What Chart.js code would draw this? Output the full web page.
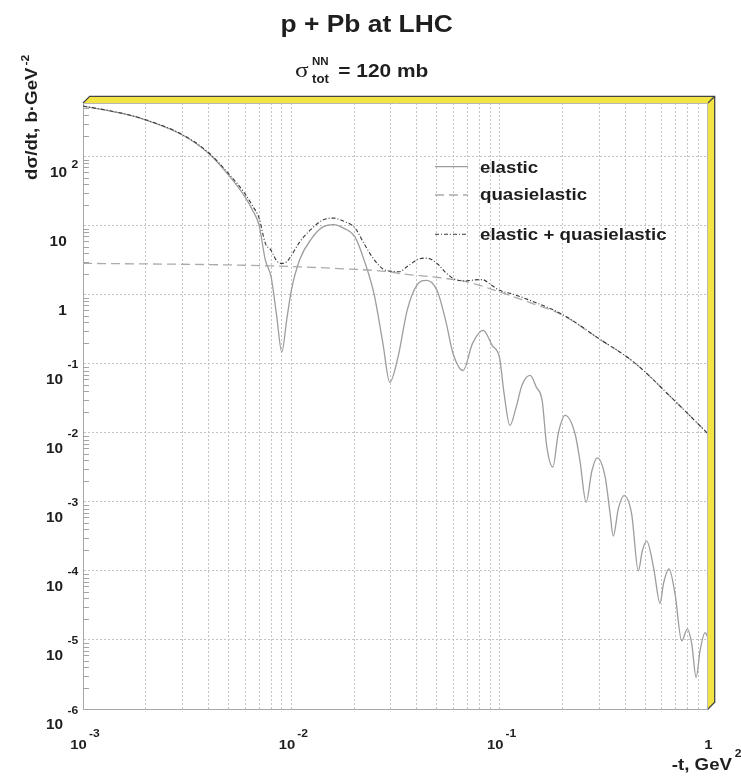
<!DOCTYPE html>
<html>
<head>
<meta charset="utf-8">
<script src="https://cdn.jsdelivr.net/npm/chart.js@4.4.1/dist/chart.umd.min.js"></script>
<style>
  html, body { margin: 0; padding: 0; background: #ffffff; }
  canvas { display: block; }
</style>
</head>
<body>
<canvas id="chart" width="741" height="783"></canvas>
<script>
// p + Pb elastic / quasielastic differential cross sections, d(sigma)/dt in b/GeV^2 vs -t in GeV^2
const tElastic = [0.001, 0.0015, 0.002, 0.003, 0.004, 0.005, 0.006, 0.0065, 0.007, 0.0075,
  0.008, 0.0085, 0.009, 0.0095, 0.010, 0.011, 0.0125, 0.014, 0.0159, 0.018,
  0.0202, 0.0225, 0.025, 0.0275, 0.0297, 0.0325, 0.036, 0.040, 0.0446, 0.050,
  0.055, 0.0598, 0.0668, 0.074, 0.0834, 0.092, 0.100, 0.105, 0.112, 0.120,
  0.128, 0.140, 0.150, 0.160, 0.168, 0.180, 0.191, 0.206, 0.230, 0.243,
  0.260, 0.277, 0.294, 0.321, 0.339, 0.351, 0.371, 0.395, 0.430, 0.463,
  0.484, 0.508, 0.548, 0.589, 0.611, 0.650, 0.695, 0.748, 0.796, 0.836,
  0.877, 0.916, 0.968, 1.0];
const elastic = [540, 430, 340, 206, 112, 54, 26, 17, 10.2, 3.2,
  1.8, 0.5, 0.148, 0.43, 1.16, 3.3, 6.5, 9.4, 10.4, 9.1,
  6.9, 3.0, 1.0, 0.2, 0.054, 0.125, 0.6, 1.37, 1.62, 1.16,
  0.43, 0.14, 0.08, 0.196, 0.305, 0.185, 0.12, 0.037, 0.0128, 0.0236,
  0.049, 0.068, 0.046, 0.029, 0.0066, 0.0032, 0.0097, 0.0179, 0.0097, 0.0039,
  0.00099, 0.0028, 0.00435, 0.00228, 0.00067, 0.00032, 0.00079, 0.00123, 0.00067, 0.0001,
  0.000196, 0.00027, 0.000112, 0.000034, 0.000065, 0.000107, 0.000046, 0.0000097, 0.0000144, 0.0000087,
  0.00000285, 0.000007, 0.0000128, 0.0000108];

const tQuasi = [0.001, 0.002, 0.004, 0.008, 0.0168, 0.030, 0.0332, 0.0507, 0.0706,
  0.0897, 0.100, 0.140, 0.200, 0.300, 0.440, 0.710, 1.0];
const quasielastic = [2.85, 2.8, 2.74, 2.62, 2.4, 2.14, 2.03, 1.78, 1.53,
  1.23, 1.10, 0.77, 0.51, 0.23, 0.106, 0.027, 0.0097];

const tSum = [0.001, 0.0015, 0.002, 0.003, 0.004, 0.005, 0.006, 0.0065, 0.007, 0.0075,
  0.008, 0.0085, 0.009, 0.0095, 0.010, 0.011, 0.0125, 0.014, 0.0159, 0.018,
  0.0202, 0.0225, 0.025, 0.0275, 0.0302, 0.033, 0.036, 0.041, 0.0446, 0.0507,
  0.055, 0.060, 0.068, 0.074, 0.080, 0.0834, 0.090, 0.100, 0.116, 0.140,
  0.200, 0.300, 0.440, 0.710, 1.0];
const elasticPlusQuasi = [543, 433, 343, 209, 115, 57, 29, 19.6, 12.9, 5.6,
  4.4, 3.1, 2.85, 3.0, 3.7, 5.9, 9.0, 11.9, 12.9, 11.5,
  9.3, 5.3, 3.2, 2.37, 2.19, 2.16, 2.57, 3.3, 3.4, 2.75,
  2.1, 1.72, 1.58, 1.63, 1.66, 1.65, 1.42, 1.16, 1.02, 0.83,
  0.52, 0.231, 0.106, 0.027, 0.0097];

// axis ranges and decade labels
const xRange = [1e-3, 1];
const yRange = [1e-6, 600];
const xDecades = [-3, -2, -1, 0];
const yDecades = [-6, -5, -4, -3, -2, -1, 0, 1, 2];
const seriesLabels = ['elastic', 'quasielastic', 'elastic + quasielastic'];

const xTickValues = [];
xDecades.forEach(e => {
  if (e === 0) { xTickValues.push(1); return; }
  for (let k = 1; k <= 9; k++) xTickValues.push(k * Math.pow(10, e));
});
const yTickValues = yDecades.map(e => Math.pow(10, e));

const toPoints = (ts, vs) => ts.map((t, i) => ({ x: t, y: vs[i] }));

const FONT = "'Liberation Sans', Arial, Helvetica, sans-serif";
const INK = '#1e1e1e';
const SX = 1.1;

const styles = {
  elastic: { color: '#9d9d9d', width: 1.3, dash: [] },
  quasi:   { color: '#ababab', width: 1.3, dash: [9, 5] },
  sum:     { color: '#3a3a3a', width: 1.1, dash: [4, 2, 1, 2] }
};

function txt(ctx, s, x, y, size, align, bold = true, family = FONT, sx = SX) {
  ctx.font = (bold ? 'bold ' : '') + size + 'px ' + family;
  const w = ctx.measureText(s).width * sx;
  let x0 = x;
  if (align === 'right') x0 = x - w;
  else if (align === 'center') x0 = x - w / 2;
  ctx.save();
  ctx.translate(x0, y);
  ctx.scale(sx, 1);
  ctx.textAlign = 'left';
  ctx.textBaseline = 'alphabetic';
  ctx.fillText(s, 0, 0);
  ctx.restore();
  return w;
}
function widthOf(ctx, s, size, bold = true) {
  ctx.font = (bold ? 'bold ' : '') + size + 'px ' + FONT;
  return ctx.measureText(s).width * SX;
}

const decorations = {
  id: 'decorations',
  afterDraw(chart) {
    const ctx = chart.ctx;
    const a = chart.chartArea;
    const xs = chart.scales.x, ys = chart.scales.y;

    // minor ticks on the left axis
    ctx.save();
    ctx.strokeStyle = '#a4a4a4';
    ctx.lineWidth = 1;
    ctx.beginPath();
    for (let e = -6; e <= 2; e++) {
      for (let k = 2; k <= 9; k++) {
        const v = k * Math.pow(10, e);
        if (v >= yRange[1]) continue;
        const py = Math.round(ys.getPixelForValue(v)) + 0.5;
        ctx.moveTo(a.left, py); ctx.lineTo(a.left + 6, py);
      }
    }
    ctx.stroke();
    ctx.restore();

    // yellow 3D frame along top and right edges
    const d = 6.7;
    ctx.save();
    ctx.fillStyle = '#f1e444';
    ctx.beginPath();
    ctx.moveTo(a.left, a.top);
    ctx.lineTo(a.left + d, a.top - d);
    ctx.lineTo(a.right + d, a.top - d);
    ctx.lineTo(a.right + d, a.bottom - d);
    ctx.lineTo(a.right, a.bottom);
    ctx.lineTo(a.right, a.top);
    ctx.closePath();
    ctx.fill();
    ctx.strokeStyle = '#444444';
    ctx.lineWidth = 1.3;
    ctx.beginPath();
    ctx.moveTo(a.left, a.top);
    ctx.lineTo(a.left + d, a.top - d);
    ctx.lineTo(a.right + d, a.top - d);
    ctx.lineTo(a.right + d, a.bottom - d);
    ctx.lineTo(a.right, a.bottom);
    ctx.moveTo(a.right, a.top);
    ctx.lineTo(a.right + d, a.top - d);
    ctx.stroke();
    ctx.strokeStyle = '#b8b8b8';
    ctx.lineWidth = 1;
    ctx.beginPath();
    ctx.moveTo(a.left, a.top + 0.5); ctx.lineTo(a.right, a.top + 0.5);
    ctx.moveTo(a.right - 0.5, a.top); ctx.lineTo(a.right - 0.5, a.bottom);
    ctx.stroke();
    ctx.restore();

    ctx.save();
    ctx.fillStyle = INK;

    // y tick labels
    yDecades.forEach(e => {
      const py = ys.getPixelForValue(Math.pow(10, e));
      if (e === 0) { txt(ctx, '1', 66.7, py + 20, 14, 'right'); return; }
      if (e === 1) { txt(ctx, '10', 66.7, py + 20, 14, 'right'); return; }
      const ex = String(e);
      const wE = widthOf(ctx, ex, 11);
      txt(ctx, ex, 78.3, e > 0 ? py + 11 : py + 4.5, 11, 'right');
      txt(ctx, '10', 78.3 - wE - 4.5, py + 20, 14, 'right');
    });
    // x tick labels
    xDecades.forEach(e => {
      const px = xs.getPixelForValue(Math.pow(10, e));
      if (e === 0) { txt(ctx, '1', px + 0.5, 749, 13.5, 'center'); return; }
      const ex = String(e);
      const w10 = widthOf(ctx, '10', 13.5);
      const wE = widthOf(ctx, ex, 11);
      const start = px + 2 - (w10 + 2 + wE) / 2;
      txt(ctx, '10', start, 749, 13.5, 'left');
      txt(ctx, ex, start + w10 + 2, 737, 11, 'left');
    });

    // axis titles
    txt(ctx, '2', 741.5, 757, 11, 'right');
    txt(ctx, '-t, GeV', 732, 770, 17, 'right');

    ctx.save();
    ctx.translate(36.5, 180);
    ctx.rotate(-Math.PI / 2);
    const wY = txt(ctx, 'dσ/dt, b·GeV', 0, 0, 17, 'left');
    txt(ctx, '-2', wY + 2, -8, 11, 'left');
    ctx.restore();

    // title and subtitle
    txt(ctx, 'p + Pb at LHC', 366.7, 32, 24, 'center');
    txt(ctx, 'σ', 295, 77, 22, 'left', false, "'Liberation Serif', 'DejaVu Serif', serif", 1.15);
    txt(ctx, 'NN', 312, 65, 10.5, 'left');
    txt(ctx, 'tot', 312, 83, 12, 'left');
    txt(ctx, '= 120 mb', 338.3, 77, 19, 'left');

    // legend
    const legendRows = [
      { style: styles.elastic, lineY: 166.7, textY: 173.3 },
      { style: styles.quasi,   lineY: 195,   textY: 200 },
      { style: styles.sum,     lineY: 234.3, textY: 240 }
    ];
    legendRows.forEach((r, i) => {
      ctx.save();
      ctx.strokeStyle = r.style.color;
      ctx.lineWidth = r.style.width;
      ctx.setLineDash(r.style.dash);
      ctx.beginPath();
      ctx.moveTo(435, r.lineY); ctx.lineTo(468, r.lineY);
      ctx.stroke();
      ctx.restore();
      txt(ctx, seriesLabels[i], 480, r.textY, 17, 'left');
    });
    ctx.restore();
  }
};

const lineDataset = (label, data, st) => ({
  label, data,
  borderColor: st.color, borderWidth: st.width, borderDash: st.dash,
  pointRadius: 0, fill: false, cubicInterpolationMode: 'monotone'
});

new Chart(document.getElementById('chart'), {
  type: 'line',
  data: {
    datasets: [
      lineDataset(seriesLabels[2], toPoints(tSum, elasticPlusQuasi), styles.sum),
      lineDataset(seriesLabels[1], toPoints(tQuasi, quasielastic), styles.quasi),
      lineDataset(seriesLabels[0], toPoints(tElastic, elastic), styles.elastic)
    ]
  },
  options: {
    responsive: false,
    animation: false,
    devicePixelRatio: 1,
    layout: { padding: { left: 83, right: 33, top: 103, bottom: 74 } },
    plugins: { legend: { display: false }, title: { display: false }, tooltip: { enabled: false } },
    scales: {
      x: {
        type: 'logarithmic', min: xRange[0], max: xRange[1],
        afterBuildTicks: s => { s.ticks = xTickValues.map(v => ({ value: v })); },
        ticks: { display: false },
        grid: { color: '#c4c4c4', lineWidth: 1, drawTicks: false },
        border: { display: true, color: '#a8a8a8', width: 1, dash: [2, 2] }
      },
      y: {
        type: 'logarithmic', min: yRange[0], max: yRange[1],
        afterBuildTicks: s => { s.ticks = yTickValues.map(v => ({ value: v })); },
        ticks: { display: false },
        grid: { color: '#c4c4c4', lineWidth: 1, drawTicks: false },
        border: { display: true, color: '#a8a8a8', width: 1, dash: [2, 2] }
      }
    }
  },
  plugins: [decorations]
});
</script>
</body>
</html>
